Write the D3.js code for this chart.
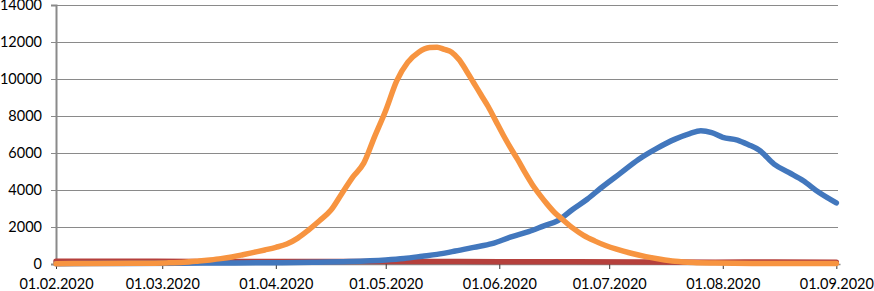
<!DOCTYPE html>
<html>
<head>
<meta charset="utf-8">
<script src="https://cdn.jsdelivr.net/npm/d3@7"></script>
<style>
  body { margin: 0; background: #fff; }
  svg text { font-family: Lato, "Open Sans", sans-serif; fill: #000; }
</style>
</head>
<body>
<svg id="chart"></svg>
<script>
// Series data (date, value)
const orangeDates = ["2020-02-01","2020-02-11","2020-02-21","2020-03-02","2020-03-07","2020-03-11","2020-03-14","2020-03-17","2020-03-20","2020-03-23",
    "2020-03-26","2020-03-29","2020-04-01","2020-04-04","2020-04-07","2020-04-10","2020-04-13","2020-04-16","2020-04-19","2020-04-22",
    "2020-04-25","2020-04-28","2020-05-01","2020-05-04","2020-05-07","2020-05-10","2020-05-13","2020-05-15","2020-05-17","2020-05-19",
    "2020-05-21","2020-05-23","2020-05-25","2020-05-27","2020-05-29","2020-05-31","2020-06-02","2020-06-04","2020-06-06","2020-06-08",
    "2020-06-10","2020-06-12","2020-06-14","2020-06-16","2020-06-18","2020-06-21","2020-06-24","2020-06-27","2020-06-30","2020-07-03",
    "2020-07-07","2020-07-11","2020-07-15","2020-07-19","2020-07-24","2020-07-30","2020-08-09","2020-09-01"];
const orangeValues = [20, 30, 40, 60, 90, 160, 220, 290, 380, 500,
    630, 760, 900, 1080, 1400, 1850, 2350, 2900, 3800, 4700,
    5450, 6900, 8300, 9900, 10900, 11450, 11700, 11720, 11600, 11450,
    11050, 10450, 9800, 9150, 8500, 7750, 7000, 6300, 5650, 4950,
    4300, 3750, 3250, 2800, 2450, 1950, 1550, 1250, 1000, 800,
    580, 400, 260, 150, 80, 50, 30, 30];

const blueDates = ["2020-02-01","2020-02-20","2020-03-12","2020-04-01","2020-04-11","2020-04-21","2020-05-01","2020-05-06","2020-05-11","2020-05-15","2020-05-20","2020-05-25","2020-05-30","2020-06-04","2020-06-09","2020-06-13","2020-06-17","2020-06-21","2020-06-25","2020-06-29","2020-07-04","2020-07-09","2020-07-14","2020-07-19","2020-07-23","2020-07-26","2020-07-29","2020-08-01","2020-08-05","2020-08-08","2020-08-11","2020-08-15","2020-08-19","2020-08-23","2020-08-27","2020-09-01"];
const blueValues = [20, 30, 50, 70, 90, 130, 220, 300, 420, 520, 700, 900, 1100, 1450, 1750, 2050, 2350, 2950, 3500, 4150, 4900, 5650, 6250, 6750, 7050, 7200, 7100, 6850, 6700, 6450, 6150, 5400, 4950, 4500, 3900, 3300];

const redDates = ["2020-02-01","2020-02-20","2020-03-10","2020-04-01","2020-04-20","2020-05-10","2020-06-01","2020-06-20","2020-07-10","2020-07-30","2020-08-15","2020-09-01"];
const redValues = [150, 150, 140, 130, 130, 140, 120, 120, 110, 100, 110, 100];

const yTicks = [0, 2000, 4000, 6000, 8000, 10000, 12000, 14000];
const xTickDates = ["2020-02-01","2020-03-01","2020-04-01","2020-05-01","2020-06-01","2020-07-01","2020-08-01","2020-09-01"];

const width = 874;
const height = 291;
const margin = { left: 56, right: 34, top: 5, bottom: 27 };

const parse = d3.timeParse("%Y-%m-%d");
const fmt = d3.timeFormat("%d.%m.%Y");

const toPoints = (dates, values) => dates.map((d, i) => ({ date: parse(d), value: values[i] }));

const series = [
    { name: "red", color: "#b5403c", points: toPoints(redDates, redValues) },
    { name: "blue", color: "#4277bd", points: toPoints(blueDates, blueValues) },
    { name: "orange", color: "#f79440", points: toPoints(orangeDates, orangeValues) }
];

// Scales
const xScale = d3.scaleTime()
    .domain([parse("2020-02-01"), parse("2020-09-02")])
    .range([margin.left, width - margin.right]);

const yScale = d3.scaleLinear()
    .domain([0, 14000])
    .range([height - margin.bottom, margin.top]);

const svg = d3.select("#chart")
    .attr("width", width)
    .attr("height", height);

// Gridlines
svg.append("g")
    .selectAll("line")
    .data(yTicks.filter(t => t > 0))
    .enter()
    .append("line")
    .attr("x1", margin.left)
    .attr("x2", xScale(parse("2020-09-02")) - 2)
    .attr("y1", d => Math.round(yScale(d)) + 0.5)
    .attr("y2", d => Math.round(yScale(d)) + 0.5)
    .attr("stroke", "#8a8a8a")
    .attr("stroke-width", 1);

// Y axis
const yAxis = d3.axisLeft(yScale)
    .tickValues(yTicks)
    .tickSize(5)
    .tickPadding(9)
    .tickFormat(d3.format("d"));

const yG = svg.append("g")
    .attr("transform", "translate(" + margin.left + ",0)")
    .call(yAxis);
yG.select(".domain").attr("stroke", "#8a8a8a").attr("stroke-width", 2);
yG.selectAll(".tick line").attr("stroke", "#8a8a8a");
yG.selectAll("text").style("font-size", "14.5px");

// X axis
const xAxis = d3.axisBottom(xScale)
    .tickValues(xTickDates.map(parse))
    .tickSize(5)
    .tickSizeOuter(0)
    .tickPadding(10)
    .tickFormat(fmt);

const xG = svg.append("g")
    .attr("transform", "translate(0," + (height - margin.bottom) + ")")
    .call(xAxis);
xG.select(".domain").attr("stroke", "#8a8a8a").attr("stroke-width", 1.5);
xG.selectAll(".tick line").attr("stroke", "#333");
xG.selectAll("text").style("font-size", "14.5px");

// Lines
const line = d3.line()
    .x(d => xScale(d.date))
    .y(d => yScale(d.value))
    .curve(d3.curveMonotoneX);

svg.append("g")
    .selectAll("path")
    .data(series)
    .enter()
    .append("path")
    .attr("d", d => line(d.points))
    .attr("fill", "none")
    .attr("stroke", d => d.color)
    .attr("stroke-width", 5.5)
    .attr("stroke-linejoin", "round")
    .attr("stroke-linecap", "round");
</script>
</body>
</html>
